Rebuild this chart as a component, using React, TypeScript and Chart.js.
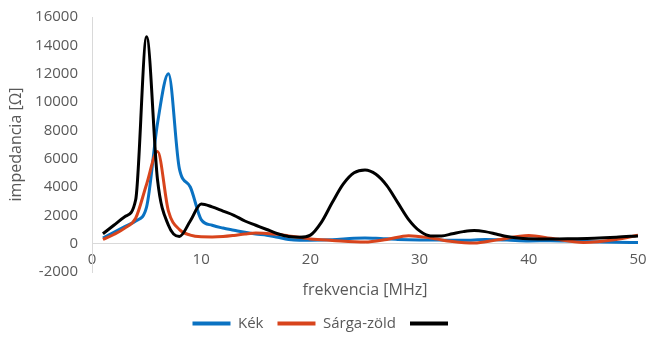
import React, { useEffect, useRef } from "react";
import { Chart, registerables } from "chart.js";

Chart.register(...registerables);

const seriesNames = ["Kék", "Sárga-zöld", ""];
const seriesColors = ["#0A72C2", "#D8441C", "#000000"];

const blueFreq = [1, 2, 3, 4, 5, 6, 7, 8, 9, 10, 11, 12, 13, 14, 15, 16, 17, 18, 19, 20, 22, 24, 25, 26, 28, 30, 32, 34, 36, 38, 40, 42, 44, 46, 48, 50];
const blueVals = [400, 800, 1200, 1600, 2600, 8500, 12000, 5300, 4000, 1700, 1300, 1100, 950, 800, 680, 600, 450, 300, 250, 250, 280, 380, 400, 380, 300, 260, 250, 240, 290, 250, 190, 210, 180, 140, 100, 80];

const redFreq = [1, 2, 3, 4, 5, 6, 7, 8, 9, 10, 11, 12, 13, 14, 15, 16, 17, 18, 19, 20, 22, 25, 27, 29, 31, 33, 35, 37, 40, 42, 45, 48, 50];
const redVals = [300, 650, 1100, 1800, 4200, 6500, 2300, 1000, 600, 480, 470, 500, 580, 680, 750, 720, 660, 550, 450, 330, 230, 120, 300, 560, 400, 150, 40, 250, 570, 380, 90, 300, 600];

const blackFreq = [1, 2, 3, 4, 5, 6, 7, 8, 9, 10, 11, 12, 13, 14, 15, 16, 17, 18, 19, 20, 21, 22, 23, 24, 25, 26, 27, 28, 29, 30, 31, 32, 33, 34, 35, 36, 37, 38, 39, 40, 42, 44, 46, 48, 50];
const blackVals = [700, 1300, 1900, 3100, 14600, 4500, 1300, 500, 1600, 2800, 2600, 2300, 2000, 1600, 1300, 1000, 700, 500, 450, 600, 1500, 2900, 4200, 5000, 5200, 4900, 4100, 2900, 1700, 900, 550, 550, 700, 850, 930, 850, 680, 500, 400, 350, 330, 350, 380, 450, 550];

const xTicks = [0, 10, 20, 30, 40, 50];
const yTicks = [-2000, 0, 2000, 4000, 6000, 8000, 10000, 12000, 14000, 16000];

const toPoints = (xs: number[], ys: number[]) => xs.map((x, i) => ({ x, y: ys[i] }));

const FONT = "'Open Sans', 'DejaVu Sans', sans-serif";
const GRAY = "#595959";

export default function App() {
  const ref = useRef<HTMLCanvasElement | null>(null);

  useEffect(() => {
    document.body.style.margin = "0";
    const canvas = ref.current;
    if (!canvas) return;
    const series = [
      toPoints(blueFreq, blueVals),
      toPoints(redFreq, redVals),
      toPoints(blackFreq, blackVals),
    ];
    const orders = [2, 1, 0];
    const chart = new Chart(canvas, {
      type: "line",
      data: {
        datasets: series.map((pts, i) => ({
          label: seriesNames[i],
          data: pts,
          borderColor: seriesColors[i],
          backgroundColor: seriesColors[i],
          borderWidth: 3,
          pointRadius: 0,
          cubicInterpolationMode: "monotone" as const,
          fill: false,
          order: orders[i],
        })),
      },
      options: {
        responsive: false,
        animation: false,
        layout: { padding: { left: 0, right: 0, top: 17, bottom: 4 } },
        plugins: {
          tooltip: { enabled: false },
          legend: {
            position: "bottom",
            labels: {
              font: { family: FONT, size: 15 },
              color: GRAY,
              boxWidth: 38,
              boxHeight: 4,
              padding: 14,
              sort: (a: any, b: any) => a.datasetIndex - b.datasetIndex,
              generateLabels: (chart: any) => {
                const items = Chart.defaults.plugins.legend.labels.generateLabels(chart);
                return items.map((it: any) => ({ ...it, lineWidth: 0 }));
              },
            },
          },
        },
        scales: {
          x: {
            type: "linear",
            min: 0,
            max: 50,
            afterBuildTicks: (scale: any) => {
              scale.ticks = xTicks.map((v) => ({ value: v }));
            },
            afterFit: (scale: any) => {
              scale.height = 30;
              scale.paddingRight = 10;
            },
            grid: { display: false, drawTicks: false },
            border: { display: false },
            ticks: {
              font: { family: FONT, size: 15 },
              color: GRAY,
              mirror: true,
              padding: 3,
              maxRotation: 0,
              callback: (v: any) => String(v),
            },
            title: {
              display: true,
              text: "frekvencia [MHz]",
              font: { family: FONT, size: 16 },
              color: GRAY,
              padding: { top: 0, bottom: 2 },
            },
          },
          y: {
            type: "linear",
            min: -2000,
            max: 16000,
            afterBuildTicks: (scale: any) => {
              scale.ticks = yTicks.map((v) => ({ value: v }));
            },
            afterFit: (scale: any) => {
              scale.width = 92;
              scale.paddingTop = 0;
              scale.paddingBottom = 0;
            },
            grid: {
              display: true,
              drawTicks: false,
              color: (ctx: any) => (ctx.tick && ctx.tick.value === 0 ? "#D9D9D9" : "rgba(0,0,0,0)"),
              lineWidth: 1,
            },
            border: { display: true, color: "#D9D9D9" },
            ticks: {
              font: { family: FONT, size: 15 },
              color: GRAY,
              padding: 14,
              callback: (v: any) => String(v),
            },
            title: {
              display: true,
              text: "impedancia [Ω]",
              font: { family: FONT, size: 16 },
              color: GRAY,
              padding: { top: 7, bottom: 0 },
            },
          },
        },
      },
    });
    return () => chart.destroy();
  }, []);

  return (
    <div style={{ width: 648, height: 345 }}>
      <canvas ref={ref} width={648} height={345} style={{ display: "block" }} />
    </div>
  );
}
